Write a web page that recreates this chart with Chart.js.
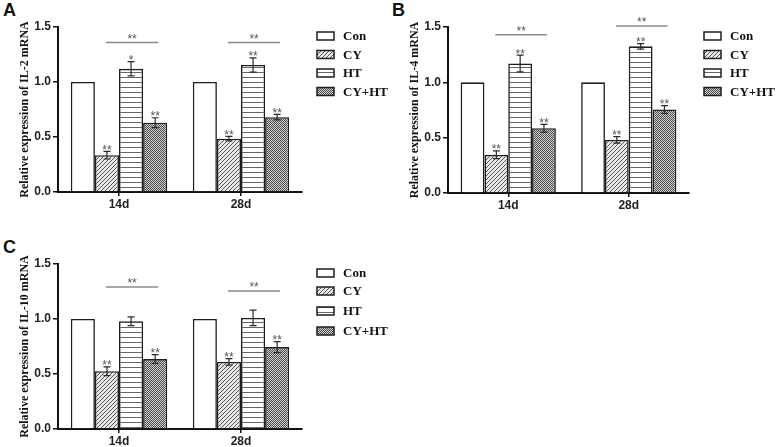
<!DOCTYPE html>
<html><head><meta charset="utf-8">
<script src="https://cdn.jsdelivr.net/npm/chart.js@4.4.1/dist/chart.umd.min.js"></script>
<style>
html,body{margin:0;padding:0;background:#fff;width:777px;height:447px;overflow:hidden}
.panel{position:absolute}
.letter{position:absolute;font:bold 18px "Liberation Sans",Arial,sans-serif;color:#111;line-height:18px}
</style></head><body>
<div class="letter" style="left:3px;top:1px">A</div>
<div class="letter" style="left:392px;top:1px">B</div>
<div class="letter" style="left:3px;top:238px">C</div>
<div class="panel" style="left:0;top:0"><canvas id="cA" width="390" height="222"></canvas></div>
<div class="panel" style="left:390px;top:0"><canvas id="cB" width="387" height="222"></canvas></div>
<div class="panel" style="left:0;top:225px"><canvas id="cC" width="390" height="222"></canvas></div>
<script>
// ---- data ----
const categories = ['14d', '28d'];
const groups = ['Con', 'CY', 'HT', 'CY+HT'];

const il2Mean14 = [1.00, 0.335, 1.12, 0.63];
const il2Mean28 = [1.00, 0.485, 1.155, 0.68];
const il2Err14 = [0, 0.035, 0.065, 0.045];
const il2Err28 = [0, 0.02, 0.065, 0.025];
const il2Stars14 = ['', '**', '*', '**'];
const il2Stars28 = ['', '**', '**', '**'];
const il2Bracket = [1.36, 1.36];

const il4Mean14 = [1.00, 0.345, 1.17, 0.585];
const il4Mean28 = [1.00, 0.48, 1.325, 0.755];
const il4Err14 = [0, 0.035, 0.075, 0.035];
const il4Err28 = [0, 0.03, 0.025, 0.035];
const il4Stars14 = ['', '**', '**', '**'];
const il4Stars28 = ['', '**', '**', '**'];
const il4Bracket = [1.43, 1.51];

const il10Mean14 = [1.00, 0.525, 0.98, 0.636];
const il10Mean28 = [1.00, 0.61, 1.01, 0.745];
const il10Err14 = [0, 0.04, 0.04, 0.04];
const il10Err28 = [0, 0.03, 0.07, 0.05];
const il10Stars14 = ['', '**', '', '**'];
const il10Stars28 = ['', '**', '', '**'];
const il10Bracket = [1.29, 1.255];

const yTicks = [0, 0.5, 1.0, 1.5];

// ---- patterns ----
function tile(w, h, draw) {
  const c = document.createElement('canvas'); c.width = w; c.height = h;
  const x = c.getContext('2d'); draw(x);
  return document.createElement('canvas').getContext('2d').createPattern(c, 'repeat');
}
const patCon = '#ffffff';
const patCY = tile(4, 4, x => {
  x.fillStyle = '#e8e8e8'; x.fillRect(0, 0, 4, 4);
  x.fillStyle = '#555';
  for (let i = 0; i < 4; i++) x.fillRect(i, 3 - i, 1, 1);
});
const patHT = tile(6, 5, x => {
  x.fillStyle = '#ffffff'; x.fillRect(0, 0, 6, 5);
  x.fillStyle = '#666'; x.fillRect(0, 2, 6, 1);
});
const patCYHT = tile(2, 2, x => {
  x.fillStyle = '#d2d2d2'; x.fillRect(0, 0, 2, 2);
  x.fillStyle = '#4a4a4a'; x.fillRect(0, 0, 1, 1); x.fillRect(1, 1, 1, 1);
});
const fills = [patCon, patCY, patHT, patCYHT];

const sansFont = '"Liberation Sans", Arial, sans-serif';
const serifFont = '"Liberation Serif", "Times New Roman", serif';

function makePanel(id, yTitle, m14, m28, e14, e28, s14, s28, bracket, topPad, xHeight, legendRows) {
  const means = [m14, m28], errs = [e14, e28], stars = [s14, s28];
  const datasets = groups.map((g, i) => ({
    label: g,
    data: [m14[i], m28[i]],
    backgroundColor: fills[i],
    borderColor: '#1e1e1e',
    borderWidth: 1.6,
    categoryPercentage: 0.79,
    barPercentage: 1.0
  }));
  const annot = {
    id: 'annot',
    afterDatasetsDraw(chart) {
      const ctx = chart.ctx, y = chart.scales.y, area = chart.chartArea;
      ctx.save();
      ctx.textAlign = 'center';
      for (let c = 0; c < categories.length; c++) {
        for (let g = 0; g < groups.length; g++) {
          const el = chart.getDatasetMeta(g).data[c];
          const v = means[c][g], e = errs[c][g];
          const yTop = y.getPixelForValue(v + e);
          if (e > 0) {
            const yBot = y.getPixelForValue(v - e);
            ctx.strokeStyle = '#2a2a2a'; ctx.lineWidth = 1.2;
            ctx.beginPath();
            ctx.moveTo(el.x, yBot); ctx.lineTo(el.x, yTop);
            ctx.moveTo(el.x - 3.5, yTop); ctx.lineTo(el.x + 3.5, yTop);
            ctx.moveTo(el.x - 3.5, yBot); ctx.lineTo(el.x + 3.5, yBot);
            ctx.stroke();
          }
          if (stars[c][g]) {
            ctx.fillStyle = '#555';
            ctx.font = '12px ' + sansFont;
            ctx.textBaseline = 'bottom';
            ctx.fillText(stars[c][g], el.x, yTop + 5);
          }
        }
        // bracket
        const x1 = chart.getDatasetMeta(1).data[c].x - 1;
        const x2 = chart.getDatasetMeta(3).data[c].x + 3;
        const by = y.getPixelForValue(bracket[c]);
        ctx.strokeStyle = '#8a8a8a'; ctx.lineWidth = 1.5;
        ctx.beginPath(); ctx.moveTo(x1, by); ctx.lineTo(x2, by); ctx.stroke();
        ctx.fillStyle = '#555';
        ctx.font = '12px ' + sansFont;
        ctx.textBaseline = 'bottom';
        ctx.fillText('**', (x1 + x2) / 2, by + 3);
      }
      // legend
      const lx = area.right + 15;
      for (let g = 0; g < groups.length; g++) {
        const cy = area.top + legendRows[g];
        ctx.fillStyle = fills[g];
        ctx.fillRect(lx, cy - 4, 17, 8);
        ctx.strokeStyle = '#1e1e1e'; ctx.lineWidth = 1.5;
        ctx.strokeRect(lx, cy - 4, 17, 8);
        ctx.fillStyle = '#111';
        ctx.font = 'bold 13px ' + serifFont;
        ctx.textAlign = 'left'; ctx.textBaseline = 'middle';
        ctx.fillText(groups[g], lx + 26, cy + 1);
        ctx.textAlign = 'center';
      }
      ctx.restore();
    }
  };
  return new Chart(document.getElementById(id), {
    type: 'bar',
    data: { labels: categories, datasets },
    options: {
      responsive: false,
      animation: false,
      layout: { padding: { left: 18, top: topPad, right: 88, bottom: 0 } },
      plugins: { legend: { display: false }, tooltip: { enabled: false } },
      scales: {
        x: {
          afterFit(s) { s.height = xHeight; },
          grid: { display: true, drawOnChartArea: false, drawTicks: true, tickLength: 4, offset: false, color: '#111', lineWidth: 1.5 },
          border: { display: true, color: '#111', width: 2 },
          ticks: { color: '#222', font: { family: sansFont, size: 12, weight: 'bold' }, padding: 1 }
        },
        y: {
          min: 0, max: 1.5,
          afterFit(s) { s.width = 40; },
          afterBuildTicks(s) { s.ticks = yTicks.map(v => ({ value: v })); },
          grid: { display: true, drawOnChartArea: false, drawTicks: true, tickLength: 5, color: '#111', lineWidth: 1.5 },
          border: { display: true, color: '#111', width: 2 },
          ticks: { color: '#222', font: { family: sansFont, size: 12, weight: 'bold' }, padding: 2, callback: v => Number(v).toFixed(1) },
          title: { display: true, text: yTitle, color: '#111', font: { family: serifFont, size: 12, weight: 'bold' }, padding: { top: 0, bottom: 0 } }
        }
      }
    },
    plugins: [annot]
  });
}

makePanel('cA', 'Relative expression of IL-2 mRNA', il2Mean14, il2Mean28, il2Err14, il2Err28, il2Stars14, il2Stars28, il2Bracket, 27, 30, [9, 27.5, 46, 64.5]);
makePanel('cB', 'Relative expression of IL-4 mRNA', il4Mean14, il4Mean28, il4Err14, il4Err28, il4Stars14, il4Stars28, il4Bracket, 27, 29, [9, 27.5, 46, 64.5]);
makePanel('cC', 'Relative expression of IL-10 mRNA', il10Mean14, il10Mean28, il10Err14, il10Err28, il10Stars14, il10Stars28, il10Bracket, 39, 18, [9, 27, 47, 67]);
</script>
</body></html>
